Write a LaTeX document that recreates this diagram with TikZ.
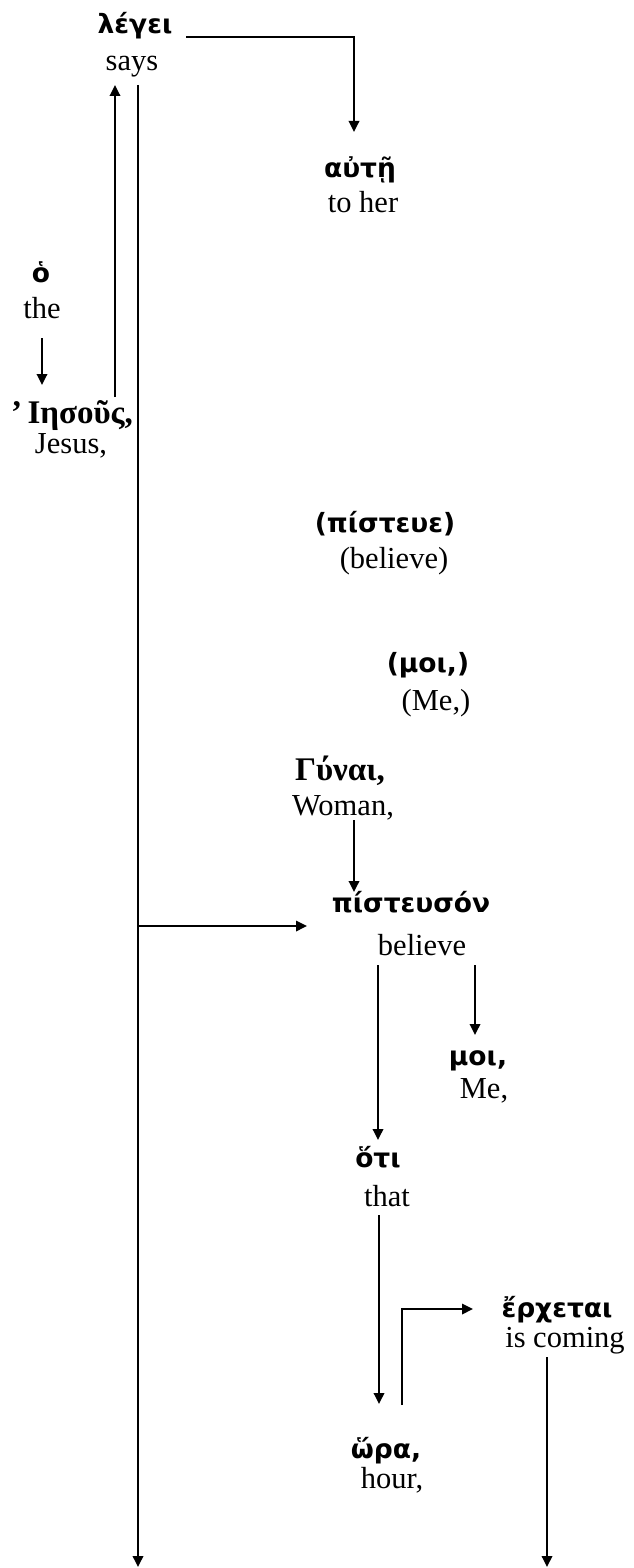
\documentclass[tikz,border=0pt]{standalone}
\usepackage{fontspec}
\setmainfont{Liberation Serif}
\newfontfamily\grfont{DejaVu Sans}
\usetikzlibrary{arrows.meta}
\newcommand\grb{\grfont\bfseries\fontsize{26.5}{30}\selectfont}
\newcommand\entxt{\fontsize{30.5}{34}\selectfont}
\newcommand\serb{\bfseries\fontsize{33}{36}\selectfont}
\begin{document}
\begin{tikzpicture}[x=1pt,y=-1pt,
  gr/.style={font=\grb, inner sep=0pt, anchor=base},
  en/.style={font=\entxt, inner sep=0pt, anchor=base},
  sg/.style={font=\serb, inner sep=0pt, anchor=base},
  arr/.style={-{Triangle[length=11pt,width=10.5pt]}, line width=1.8pt}]
\useasboundingbox (0,0) rectangle (633,1568);
% words
\node[gr] (legei) at (135,34) {λέγει};
\node[en] (says) at (132,71) {says};
\node[gr] (aute) at (360,177) {αὐτῇ};
\node[en] (toher) at (363,212) {to her};
\node[gr] (ho) at (41,282) {ὁ};
\node[en] (the) at (42,318) {the};
\node[sg] (iesous) at (72,423) {’\,Ιησοῦς,};
\node[en] (jesus) at (71,453) {Jesus,};
\node[gr] (pisteue) at (385,532) {(πίστευε)};
\node[en] (believeA) at (394,568) {(believe)};
\node[gr] (moiA) at (428,672) {(μοι,)};
\node[en] (meA) at (436,710) {(Me,)};
\node[sg] (gunai) at (340,780) {Γύναι,};
\node[en] (woman) at (343,815) {Woman,};
\node[gr] (pisteuson) at (411,912) {πίστευσόν};
\node[en] (believe) at (422,955) {believe};
\node[gr] (moi) at (478,1065) {μοι,};
\node[en] (me) at (484,1098) {Me,};
\node[gr] (hoti) at (378,1167) {ὅτι};
\node[en] (that) at (387,1206) {that};
\node[gr] (erchetai) at (557,1317) {ἔρχεται};
\node[en] (iscoming) at (565,1347) {is coming};
\node[gr] (hora) at (386,1458) {ὥρα,};
\node[en] (hour) at (392,1488) {hour,};
% connector end points
\coordinate (legeiOut) at (186,37);
\coordinate (auteIn) at (354,132);
\coordinate (jesusOut) at (115,397);
\coordinate (saysIn) at (115,85);
\coordinate (saysOut) at (138,85);
\coordinate (mainEnd) at (138,1567);
\coordinate (branch) at (138,926);
\coordinate (pisteusonIn) at (307,926);
\coordinate (theOut) at (42,338);
\coordinate (jesusIn) at (42,385);
\coordinate (womanOut) at (354,820);
\coordinate (pisteusonTop) at (354,892);
\coordinate (believeOutA) at (378,965);
\coordinate (hotiIn) at (378,1140);
\coordinate (believeOutB) at (475,965);
\coordinate (moiIn) at (475,1035);
\coordinate (thatOut) at (379,1215);
\coordinate (horaIn) at (379,1404);
\coordinate (horaOut) at (402,1405);
\coordinate (erchetaiIn) at (473,1309);
\coordinate (iscomingOut) at (547,1357);
\coordinate (iscomingEnd) at (547,1567);
% connectors
\draw[arr] (legeiOut) -| (auteIn);
\draw[arr] (jesusOut) -- (saysIn);
\draw[arr] (saysOut) -- (mainEnd);
\draw[arr] (branch) -- (pisteusonIn);
\draw[arr] (theOut) -- (jesusIn);
\draw[arr] (womanOut) -- (pisteusonTop);
\draw[arr] (believeOutA) -- (hotiIn);
\draw[arr] (believeOutB) -- (moiIn);
\draw[arr] (thatOut) -- (horaIn);
\draw[arr] (horaOut) |- (erchetaiIn);
\draw[arr] (iscomingOut) -- (iscomingEnd);
\end{tikzpicture}
\end{document}
